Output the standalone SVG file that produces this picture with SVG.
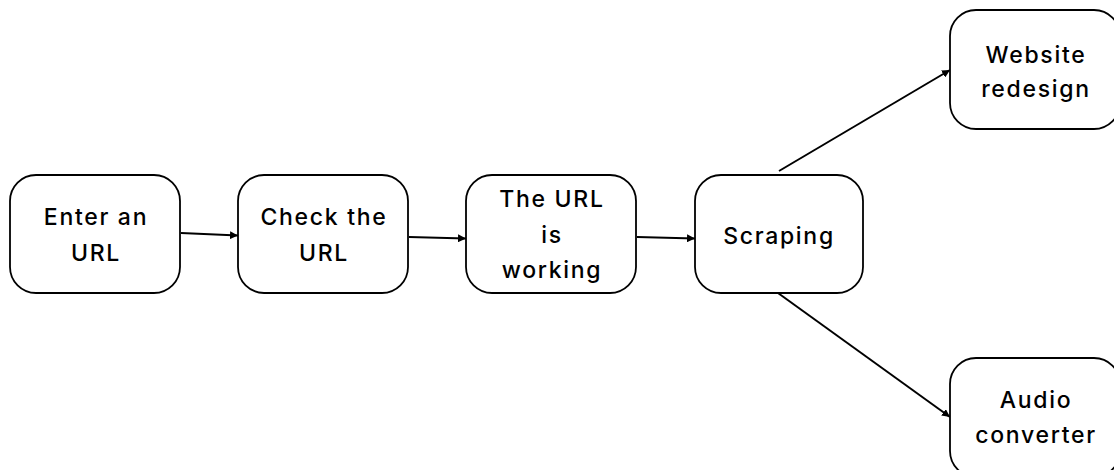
<svg xmlns="http://www.w3.org/2000/svg" width="1114" height="470" viewBox="0 0 1114 470">
  <defs>
    <marker id="arrow" viewBox="0 0 10 10" refX="10" refY="5" markerWidth="8" markerHeight="8" markerUnits="userSpaceOnUse" orient="auto">
      <path d="M0,0 L10,5 L0,10 z" fill="#000"/>
    </marker>
  </defs>
  <style>
    .box { fill: #fff; stroke: #000; stroke-width: 1.8; }
    .label { font-family: Inter, "Liberation Sans", sans-serif; font-size: 23px; font-weight: 500; letter-spacing: 1.7px; fill: #000; text-anchor: middle; }
    .edge { stroke: #000; stroke-width: 2; fill: none; marker-end: url(#arrow); }
  </style>
  <rect width="1114" height="470" fill="#fff"/>

  <g id="connectors">
    <line class="edge" x1="181" y1="233" x2="238" y2="235.5"/>
    <line class="edge" x1="409" y1="237" x2="466" y2="238.5"/>
    <line class="edge" x1="637" y1="237" x2="695" y2="238.5"/>
    <line class="edge" x1="779" y1="171" x2="950" y2="70"/>
    <line class="edge" x1="778" y1="293" x2="950" y2="417"/>
  </g>

  <g id="enter-url">
    <rect class="box" x="10" y="175" width="170" height="118" rx="26"/>
    <text class="label" x="96" y="225">Enter an</text>
    <text class="label" x="96" y="261">URL</text>
  </g>

  <g id="check-url">
    <rect class="box" x="238" y="175" width="170" height="118" rx="26"/>
    <text class="label" x="324" y="225">Check the</text>
    <text class="label" x="324" y="261">URL</text>
  </g>

  <g id="url-working">
    <rect class="box" x="466" y="175" width="170" height="118" rx="26"/>
    <text class="label" x="552" y="207">The URL</text>
    <text class="label" x="552" y="243">is</text>
    <text class="label" x="552" y="278">working</text>
  </g>

  <g id="scraping">
    <rect class="box" x="695" y="175" width="168" height="118" rx="26"/>
    <text class="label" x="779" y="244">Scraping</text>
  </g>

  <g id="website-redesign">
    <rect class="box" x="950" y="10" width="170" height="119" rx="26"/>
    <text class="label" x="1036" y="63">Website</text>
    <text class="label" x="1036" y="97">redesign</text>
  </g>

  <g id="audio-converter">
    <rect class="box" x="950" y="358" width="170" height="119" rx="26"/>
    <text class="label" x="1036" y="408">Audio</text>
    <text class="label" x="1036" y="443">converter</text>
  </g>
</svg>
